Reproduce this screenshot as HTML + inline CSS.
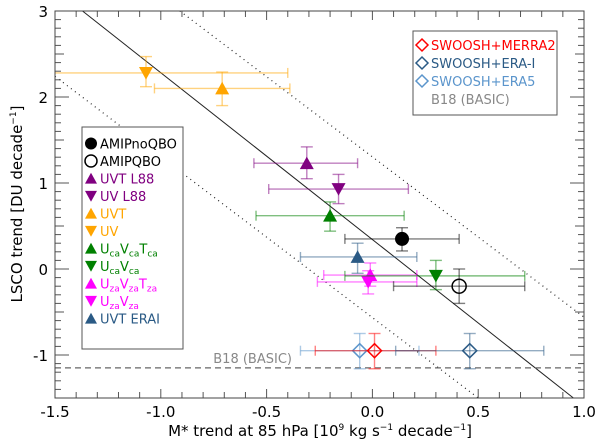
<!DOCTYPE html>
<html><head><meta charset="utf-8"><style>
html,body{margin:0;padding:0;background:#fff;}
svg{display:block;font-family:"DejaVu Sans","Liberation Sans",sans-serif;}
</style></head><body>
<svg id="chart" width="600" height="443" viewBox="0 0 600 443" xmlns="http://www.w3.org/2000/svg">
<rect x="0" y="0" width="600" height="443" fill="#fff"/>
<g id="lines"></g>
<g id="ticks"></g>
<g id="marks"></g>
<rect x="55" y="11" width="529" height="387" fill="none" stroke="#444" stroke-width="1"/>
<text x="320" y="436" font-size="15" text-anchor="middle" fill="#000">M* trend at 85 hPa [10<tspan font-size="9" dy="-6">9</tspan><tspan dy="6"> kg s</tspan><tspan font-size="9" dy="-6">−1</tspan><tspan dy="6"> decade</tspan><tspan font-size="9" dy="-6">−1</tspan><tspan dy="6">]</tspan></text>
<text transform="translate(22,204) rotate(-90)" font-size="15" text-anchor="middle" fill="#000">LSCO trend [DU decade<tspan font-size="9" dy="-6">−1</tspan><tspan dy="6">]</tspan></text>
<g>
<rect x="82" y="127" width="101" height="222" fill="#fff" stroke="#555" stroke-width="1"/>
<g id="leg1"></g>
</g>
<g>
<rect x="413" y="31" width="144" height="84" fill="#fff" stroke="#555" stroke-width="1"/>
<g id="leg2"></g>
</g>
</svg>
<script>
const xTicks = [-1.5, -1.0, -0.5, 0.0, 0.5, 1.0];
const xTickLabels = ["-1.5", "-1.0", "-0.5", "0.0", "0.5", "1.0"];
const yTicks = [-1, 0, 1, 2, 3];
const yTickLabels = ["-1", "0", "1", "2", "3"];
const seriesNames = ["UV","UVT","UVT L88","UV L88","UcaVcaTca","AMIPnoQBO","UVT ERAI","UzaVzaTza","UzaVza","UcaVca","AMIPQBO","SWOOSH+ERA5","SWOOSH+MERRA2","SWOOSH+ERA-I"];
const xVals =  [-1.07,-0.71,-0.31,-0.16,-0.20,0.14,-0.07,-0.01,-0.02,0.30,0.41,-0.06,0.01,0.46];
const yVals =  [2.28,2.10,1.23,0.93,0.62,0.35,0.14,-0.07,-0.15,-0.08,-0.20,-0.95,-0.95,-0.95];
const xLow =   [-1.6,-1.03,-0.56,-0.49,-0.55,-0.13,-0.34,-0.23,-0.26,-0.13,0.10,-0.34,-0.27,0.11];
const xHigh =  [-0.40,-0.39,-0.07,0.17,0.15,0.41,0.21,0.21,0.21,0.72,0.72,0.22,0.30,0.81];
const yLow =   [2.12,1.90,1.05,0.76,0.44,0.21,-0.05,-0.20,-0.29,-0.24,-0.40,-1.16,-1.16,-1.16];
const yHigh =  [2.47,2.29,1.42,1.10,0.78,0.48,0.30,0.07,-0.02,0.10,0.00,-0.75,-0.75,-0.75];
const b18Value = -1.15;
const fitLine = [[-1.37,3.0],[0.95,-1.5]];
const upperBound = [[-0.91,3.0],[1.0,-0.56]];
const lowerBound = [[-1.5,2.24],[0.5,-1.5]];

const styles = {
 "UV":["#FFA500","down"],"UVT":["#FFA500","up"],"UVT L88":["#800080","up"],"UV L88":["#800080","down"],
 "UcaVcaTca":["#008000","up"],"AMIPnoQBO":["#000000","fill"],"UVT ERAI":["#2a5a85","up"],
 "UzaVzaTza":["#ff00ff","up"],"UzaVza":["#ff00ff","down"],"UcaVca":["#008000","down"],
 "AMIPQBO":["#000000","open"],"SWOOSH+ERA5":["#5b95cc","dia"],"SWOOSH+MERRA2":["#ff0000","dia"],"SWOOSH+ERA-I":["#2a5a85","dia"]};

const X0=55,X1=584,Y0=398,Y1=11;
const sx=v=>X0+(v+1.5)/2.5*(X1-X0);
const sy=v=>Y0-(v+1.5)/4.5*(Y0-Y1);
const NS="http://www.w3.org/2000/svg";
function mk(tag,attrs,parent){const e=document.createElementNS(NS,tag);for(const k in attrs)e.setAttribute(k,attrs[k]);parent.appendChild(e);return e;}
const G=id=>document.getElementById(id);
const cx=v=>Math.max(X0,Math.min(X1,v));

// reference lines
function seg(p,dash,name){
 const l=mk("line",{x1:sx(p[0][0]),y1:sy(p[0][1]),x2:sx(p[1][0]),y2:sy(p[1][1]),stroke:"#222","stroke-width":dash?1.2:1,"stroke-dasharray":dash?"1 4":"none"},G("lines"));
 
 
}
seg(fitLine,false,"regression-line");
seg(upperBound,true,"upper-bound-line");
seg(lowerBound,true,"lower-bound-line");
const b=mk("line",{x1:X0,x2:X1,y1:sy(b18Value),y2:sy(b18Value),stroke:"#666","stroke-width":1.3,"stroke-dasharray":"6 4"},G("lines"));


const bt=mk("text",{x:sx(-0.38),y:sy(b18Value)-5,"font-size":13,fill:"#888","text-anchor":"end"},G("lines"));
bt.textContent="B18 (BASIC)";



// ticks
const T=G("ticks");
for(let i=-15;i<=10;i++){const v=i/10,x=sx(v);const L=(i%5===0)?9:6;
 mk("line",{x1:x,x2:x,y1:Y0,y2:Y0-L,stroke:"#555"},T);mk("line",{x1:x,x2:x,y1:Y1,y2:Y1+L,stroke:"#555"},T);}
for(let i=-15;i<=30;i++){const v=i/10,y=sy(v);const L=(i%10===0)?14:(i%5===0?9:6);
 mk("line",{x1:X0,x2:X0+L,y1:y,y2:y,stroke:"#555"},T);mk("line",{x1:X1,x2:X1-L,y1:y,y2:y,stroke:"#555"},T);}
xTicks.forEach((v,i)=>{const t=mk("text",{x:sx(v),y:417,"font-size":15,"text-anchor":"middle",fill:"#000"},T);t.textContent=xTickLabels[i];
 
 });
yTicks.forEach((v,i)=>{const t=mk("text",{x:48,y:sy(v)+6,"font-size":15,"text-anchor":"end",fill:"#000"},T);t.textContent=yTickLabels[i];
 
 });

function marker(kind,color,x,y,s,par){
 if(kind==="up")return mk("path",{d:`M${x-s},${y+s*0.85}L${x+s},${y+s*0.85}L${x},${y-s*0.95}Z`,fill:color},par);
 if(kind==="down")return mk("path",{d:`M${x-s},${y-s*0.85}L${x+s},${y-s*0.85}L${x},${y+s*0.95}Z`,fill:color},par);
 if(kind==="fill")return mk("circle",{cx:x,cy:y,r:s,fill:color},par);
 if(kind==="open")return mk("circle",{cx:x,cy:y,r:s,fill:"none",stroke:color,"stroke-width":1.5},par);
 return mk("path",{d:`M${x-s},${y}L${x},${y-s}L${x+s},${y}L${x},${y+s}Z`,fill:"none",stroke:color,"stroke-width":1.5},par);
}

const M=G("marks");
seriesNames.forEach((n,i)=>{
 const [c,k]=styles[n];
 const g=mk("g",{},M);
 
 
 const x=sx(xVals[i]),y=sy(yVals[i]);
 const ea={stroke:c,"stroke-opacity":0.5,"stroke-width":1.4};
 const xl=cx(sx(xLow[i])),xh=cx(sx(xHigh[i]));
 mk("line",Object.assign({x1:xl,x2:xh,y1:y,y2:y},ea),g);
 if(sx(xLow[i])>=X0)mk("line",Object.assign({x1:xl,x2:xl,y1:y-5,y2:y+5},ea),g);
 mk("line",Object.assign({x1:xh,x2:xh,y1:y-5,y2:y+5},ea),g);
 const yl=sy(yLow[i]),yh=sy(yHigh[i]);
 mk("line",Object.assign({x1:x,x2:x,y1:yl,y2:yh},ea),g);
 mk("line",Object.assign({x1:x-6,x2:x+6,y1:yl,y2:yl},ea),g);
 mk("line",Object.assign({x1:x-6,x2:x+6,y1:yh,y2:yh},ea),g);
 marker(k,c,x,y,k==="dia"?7:(k==="fill"||k==="open"?7:7),g);
});

// legend 1
const leg1=[["AMIPnoQBO","#000","fill"],["AMIPQBO","#000","open"],["UVT L88","#800080","up"],["UV L88","#800080","down"],["UVT","#FFA500","up"],["UV","#FFA500","down"],
 ["U|ca|V|ca|T|ca","#008000","up"],["U|ca|V|ca","#008000","down"],["U|za|V|za|T|za","#ff00ff","up"],["U|za|V|za","#ff00ff","down"],["UVT ERAI","#2a5a85","up"]];
leg1.forEach((e,i)=>{
 const y=143.5+i*17.5;const g=mk("g",{},G("leg1"));
 
 
 marker(e[2],e[1],91,y,6,g);
 const t=mk("text",{x:100,y:y+5,"font-size":13,fill:e[1]},g);
 const parts=e[0].split("|");
 parts.forEach((p,j)=>{const s=mk("tspan",j%2?{"font-size":9,dy:3}:(j>0?{dy:-3}:{}),t);s.textContent=p;});
});
// legend 2
const leg2=[["SWOOSH+MERRA2","#ff0000"],["SWOOSH+ERA-I","#2a5a85"],["SWOOSH+ERA5","#5b95cc"],["B18 (BASIC)","#888"]];
leg2.forEach((e,i)=>{
 const y=45+i*18;const g=mk("g",{},G("leg2"));
 
 
 if(i<3)marker("dia",e[1],422,y,6,g);
 const t=mk("text",{x:431,y:y+5,"font-size":13,fill:e[1]},g);t.textContent=e[0];
});
</script>
</body></html>
